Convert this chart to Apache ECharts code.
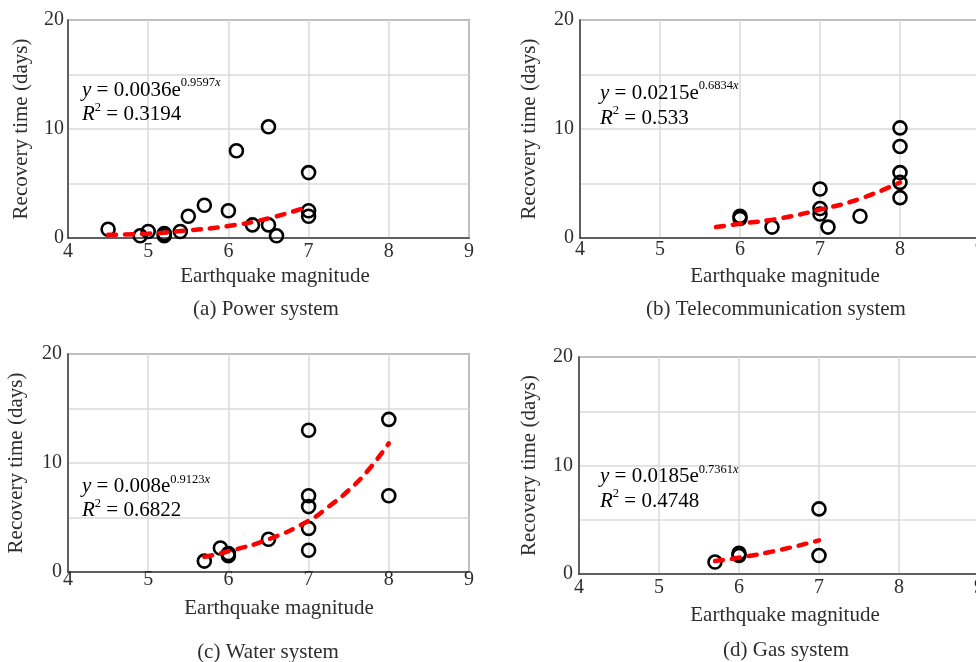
<!DOCTYPE html>
<html><head><meta charset="utf-8">
<script src="https://cdn.jsdelivr.net/npm/echarts@6/dist/echarts.min.js"></script>
<style>html,body{margin:0;padding:0;background:#fff}#c{width:976px;height:662px}</style>
</head><body><div id="c"></div>
<script>
// ---- data ----
const powerPoints = [[4.5,0.8],[4.9,0.2],[5.0,0.6],[5.2,0.4],[5.2,0.2],[5.4,0.6],[5.5,2.0],[5.7,3.0],[6.0,2.5],[6.1,8.0],[6.3,1.2],[6.5,10.2],[6.5,1.2],[6.6,0.2],[7.0,6.0],[7.0,2.5],[7.0,2.0]];
const powerTrend = [[4.5,0.3],[5.0,0.4],[5.5,0.7],[6.0,1.1],[6.5,1.8],[7.0,2.9]];
const telecomPoints = [[6.0,2.0],[6.0,1.8],[6.4,1.0],[7.0,4.5],[7.0,2.7],[7.0,2.2],[7.1,1.0],[7.5,2.0],[8.0,10.1],[8.0,8.4],[8.0,6.0],[8.0,5.1],[8.0,3.7]];
const telecomTrend = [[5.7,1.0],[6.0,1.3],[6.5,1.8],[7.0,2.6],[7.5,3.6],[8.0,5.1]];
const waterPoints = [[5.7,1.0],[5.9,2.2],[6.0,1.7],[6.0,1.5],[6.5,3.0],[7.0,13.0],[7.0,7.0],[7.0,6.0],[7.0,4.0],[7.0,2.0],[8.0,14.0],[8.0,7.0]];
const waterTrend = [[5.7,1.4],[6.0,1.9],[6.5,3.0],[7.0,4.7],[7.25,6.0],[7.5,7.5],[7.75,9.4],[8.0,11.8]];
const gasPoints = [[5.7,1.1],[6.0,1.9],[6.0,1.7],[7.0,6.0],[7.0,1.7]];
const gasTrend = [[5.7,1.2],[6.0,1.5],[6.5,2.2],[7.0,3.1]];
const xTickRange = [4, 9];
const yTickRange = [0, 20];
const captions = ['(a) Power system','(b) Telecommunication system','(c) Water system','(d) Gas system'];
const coefA = ['0.0036','0.0215','0.008','0.0185'];
const coefB = ['0.9597','0.6834','0.9123','0.7361'];
const r2 = ['0.3194','0.533','0.6822','0.4748'];
const xName = 'Earthquake magnitude';
const yName = 'Recovery time (days)';

// ---- layout ----
const FONT = '"Liberation Serif","Times New Roman",serif';
const TXT = '#2e2e2e';
const grids = [
  {left:68, top:20, width:401, height:218},
  {left:580, top:20, width:400, height:218},
  {left:68, top:354, width:401, height:218},
  {left:579, top:357, width:400, height:217}
];
const xMargins = [4, 2, -2, 4];
const yMargins = [4, 6, 6, 6];
const yNameGaps = [36, 40, 41, 39];
const xNamePos = [[275,276],[785,276],[279,608],[785,615]];
const capPos = [[266,309],[776,309],[268,652],[786,650]];
const eqPos = [[82,88.5,113],[600,91.7,116.7],[82,485,509],[600,475,499.5]];
const pointSets = [powerPoints, telecomPoints, waterPoints, gasPoints];
const trendSets = [powerTrend, telecomTrend, waterTrend, gasTrend];

const xAxes = [], yAxes = [], series = [], graphics = [];
grids.forEach((g, i) => {
  g.show = true; g.borderColor = '#404040'; g.borderWidth = 1.5; g.containLabel = false;
  g.outerBoundsMode = 'none';
  xAxes.push({
    type:'value', gridIndex:i, min:xTickRange[0], max:xTickRange[1], interval:1,
    axisLine:{show:true, onZero:false, lineStyle:{color:'#404040', width:1.5}},
    axisTick:{show:false},
    axisLabel:{fontSize:20, color:TXT, fontFamily:FONT, margin:xMargins[i], showMaxLabel:true, showMinLabel:true, hideOverlap:false},
    splitLine:{show:true, lineStyle:{color:'#dadada', width:1.5}}
  });
  yAxes.push({
    type:'value', gridIndex:i, min:yTickRange[0], max:yTickRange[1], interval:5,
    name:yName, nameLocation:'middle', nameGap:yNameGaps[i],
    nameTextStyle:{fontSize:21, color:TXT, fontFamily:FONT},
    axisLine:{show:true, lineStyle:{color:'#404040', width:1.5}},
    axisTick:{show:false},
    axisLabel:{fontSize:20, color:TXT, fontFamily:FONT, margin:yMargins[i], hideOverlap:false,
      formatter: v => (v % 10 === 0 ? String(v) : '')},
    splitLine:{show:true, lineStyle:{color:'#dadada', width:1.5}}
  });
  series.push({
    type:'scatter', xAxisIndex:i, yAxisIndex:i, data:pointSets[i],
    symbol:'circle', symbolSize:13, z:3,
    itemStyle:{color:'rgba(0,0,0,0)', borderColor:'#000', borderWidth:2.6, opacity:1},
    emphasis:{disabled:true}
  });
  series.push({
    type:'line', xAxisIndex:i, yAxisIndex:i, data:trendSets[i], smooth:true,
    showSymbol:false, z:4, silent:true,
    lineStyle:{color:'#ff0000', width:4.5, type:[8,9], cap:'round'}
  });
  graphics.push({type:'text', z:100, x:xNamePos[i][0], y:xNamePos[i][1],
    style:{text:xName, font:'21px '+FONT, fill:TXT, textAlign:'center', textVerticalAlign:'middle'}});
  graphics.push({type:'text', z:100, x:capPos[i][0], y:capPos[i][1],
    style:{text:captions[i], font:'21px '+FONT, fill:TXT, textAlign:'center', textVerticalAlign:'middle'}});
  graphics.push({type:'text', z:100, x:eqPos[i][0], y:eqPos[i][1],
    style:{text:'{i|y}{m| = '+coefA[i]+'e}{s|'+coefB[i]+'}{si|x}',
      textVerticalAlign:'middle', textAlign:'left',
      rich:{
        i:{fontFamily:FONT, fontStyle:'italic', fontSize:21, color:TXT, lineHeight:24, verticalAlign:'bottom'},
        m:{fontFamily:FONT, fontSize:21, color:TXT, lineHeight:24, verticalAlign:'bottom'},
        s:{fontFamily:FONT, fontSize:12.5, color:TXT, lineHeight:14, verticalAlign:'top'},
        si:{fontFamily:FONT, fontStyle:'italic', fontSize:12.5, color:TXT, lineHeight:14, verticalAlign:'top', padding:[0,2,0,0]}
      }}});
  graphics.push({type:'text', z:100, x:eqPos[i][0], y:eqPos[i][2],
    style:{text:'{i|R}{s|2}{m| = '+r2[i]+'}',
      textVerticalAlign:'middle', textAlign:'left',
      rich:{
        i:{fontFamily:FONT, fontStyle:'italic', fontSize:21, color:TXT, lineHeight:24, verticalAlign:'bottom'},
        m:{fontFamily:FONT, fontSize:21, color:TXT, lineHeight:24, verticalAlign:'bottom'},
        s:{fontFamily:FONT, fontSize:12.5, color:TXT, lineHeight:14, verticalAlign:'top'}
      }}});
});

const chart = echarts.init(document.getElementById('c'), null, {renderer:'canvas'});
chart.setOption({
  animation:false,
  backgroundColor:'#fff',
  grid:grids, xAxis:xAxes, yAxis:yAxes, series:series, graphic:graphics
});
</script></body></html>
